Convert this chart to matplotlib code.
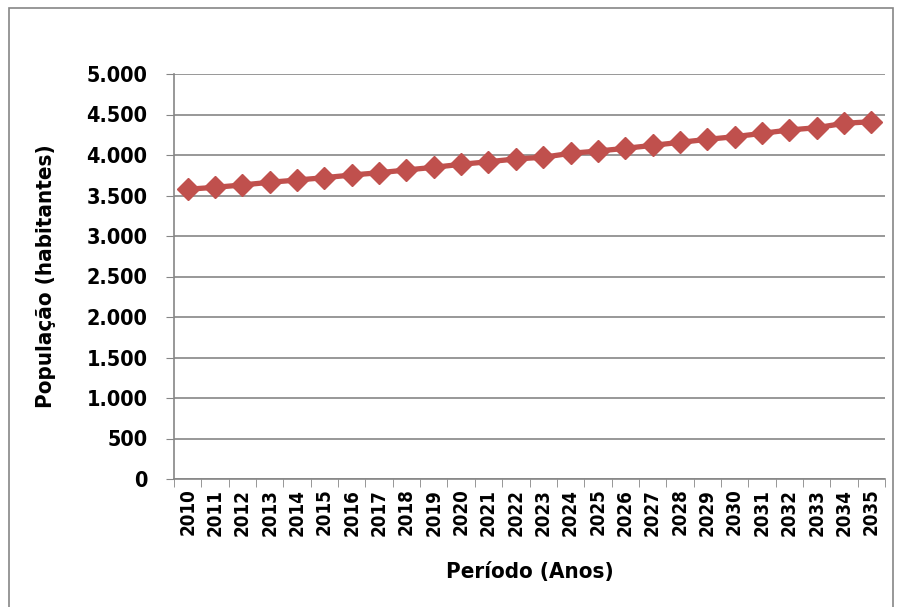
import matplotlib
matplotlib.use('Agg')
import matplotlib.pyplot as plt
import numpy as np
from matplotlib.patches import Rectangle

plt.rcParams['font.family'] = ['DejaVu Sans']
plt.rcParams['font.stretch'] = 'condensed'
plt.rcParams['font.weight'] = 'bold'

# dados
anos = [str(a) for a in range(2010, 2036)]
populacao = [3577, 3601, 3630, 3663, 3691, 3720, 3753, 3781, 3815, 3848,
             3885, 3917, 3951, 3972, 4021, 4049, 4082, 4119, 4156, 4193,
             4226, 4267, 4309, 4337, 4391, 4411]
yticks = [0, 500, 1000, 1500, 2000, 2500, 3000, 3500, 4000, 4500, 5000]
ytick_labels = ['0', '500', '1.000', '1.500', '2.000', '2.500', '3.000',
                '3.500', '4.000', '4.500', '5.000']

fig = plt.figure(figsize=(9.01, 6.07), dpi=100)
ax = fig.add_axes([174/901, 1 - 479/607, (885 - 174)/901, (479 - 74)/607])

x = np.arange(len(anos))
ax.plot(x, populacao, color='#C0504D', lw=3.8, marker='D', markersize=11.5,
        markeredgecolor='#C0504D', zorder=3)

ax.set_xlim(-0.5, len(anos) - 0.5)
ax.set_ylim(0, 5000)
ax.set_yticks(yticks)
ax.set_yticklabels(ytick_labels, fontsize=15.5, fontweight='bold')
ax.set_xticks(x)
ax.set_xticklabels(anos, rotation=90, fontsize=13.5, fontweight='bold')
ax.set_xticks(np.arange(len(anos) + 1) - 0.5, minor=True)
ax.tick_params(axis='x', which='major', length=0, pad=7)
ax.tick_params(axis='x', which='minor', length=6, color='#868686', direction='out')
ax.tick_params(axis='y', length=6, color='#868686', pad=13)

ax.grid(axis='y', color='#868686', lw=1.2)
ax.set_axisbelow(True)
for s in ['top', 'right']:
    ax.spines[s].set_visible(False)
for s in ['left', 'bottom']:
    ax.spines[s].set_color('#868686')
    ax.spines[s].set_linewidth(1.2)

ax.set_ylabel('População (habitantes)', fontsize=16, fontweight='bold', labelpad=22)
ax.set_xlabel('Período (Anos)', fontsize=16, fontweight='bold', labelpad=19)

fig.patches.append(Rectangle((9/901, -0.01), 884/901, 1 - 8/607 + 0.01,
                             transform=fig.transFigure, fill=False,
                             edgecolor='#868686', lw=1.2))

fig.savefig('out.png', dpi=100)
